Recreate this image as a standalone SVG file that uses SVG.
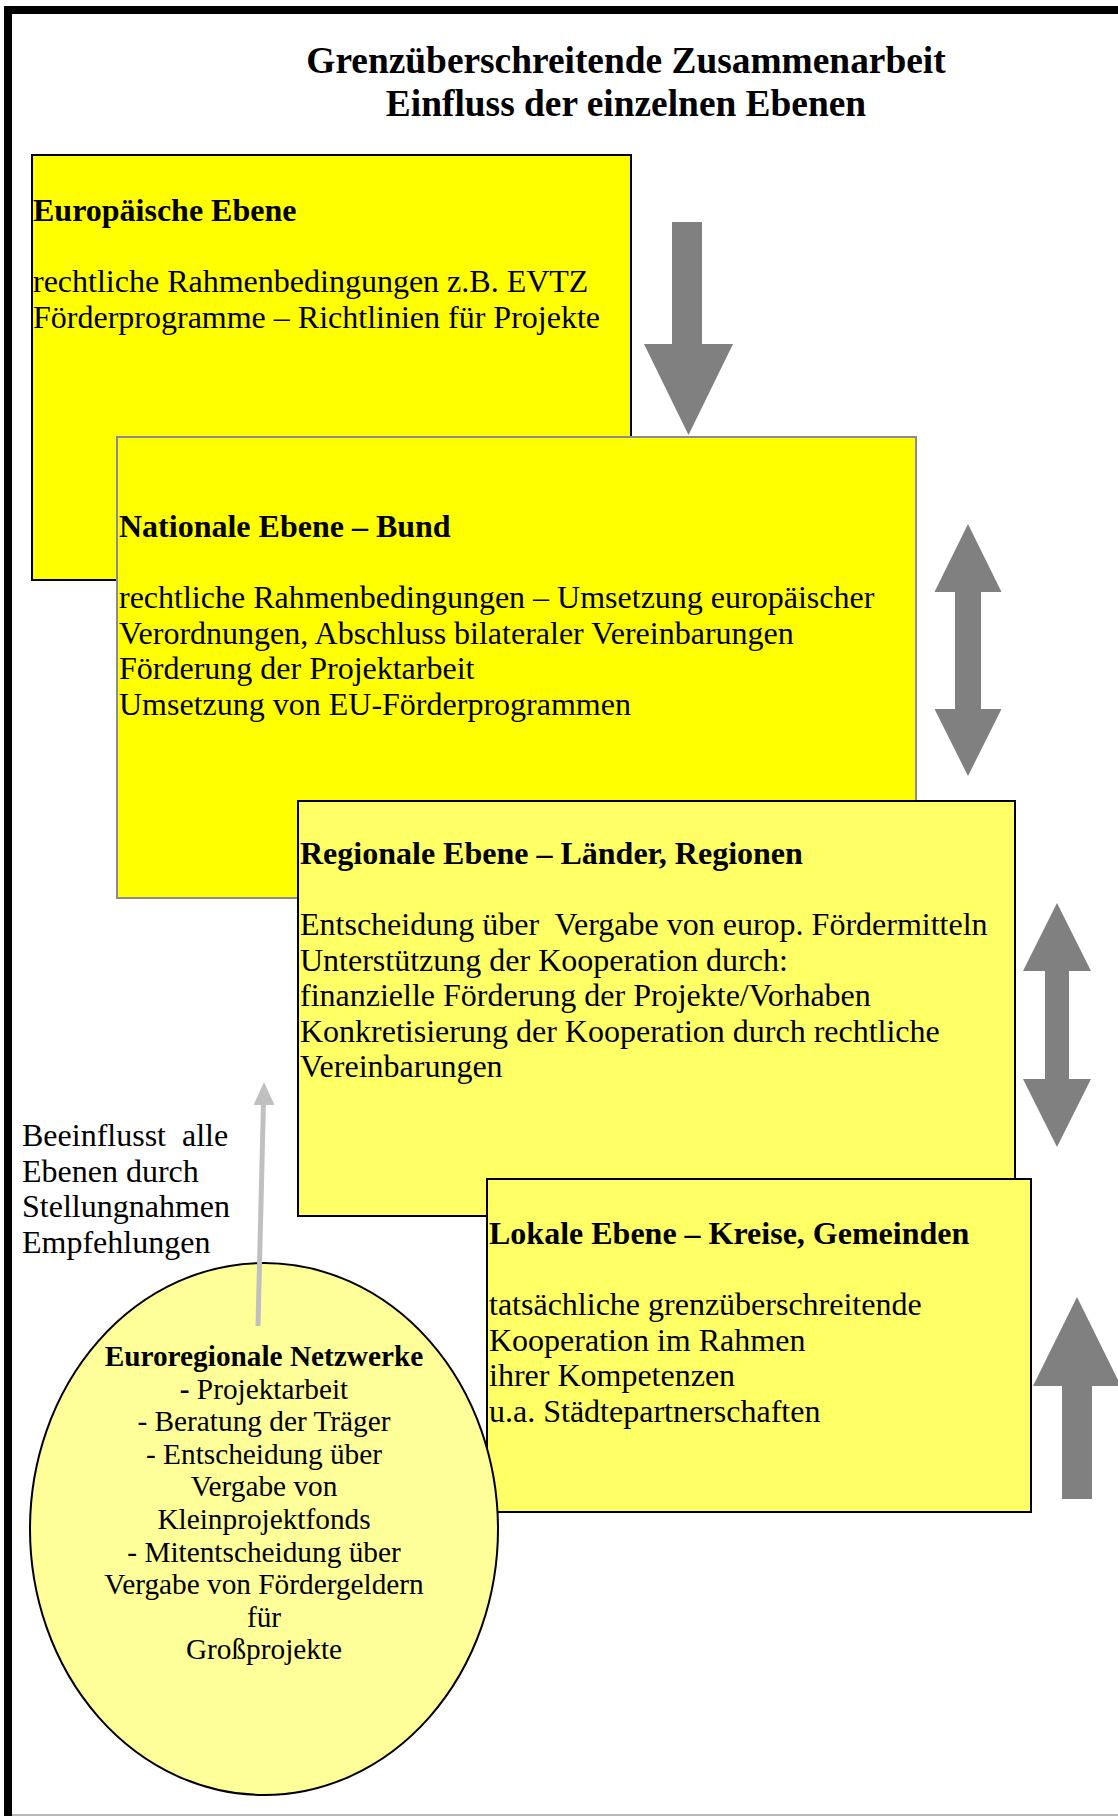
<svg xmlns="http://www.w3.org/2000/svg" width="1118" height="1816" viewBox="0 0 1118 1816">
  <style>
    text { font-family: "Liberation Serif", "Times New Roman", serif; fill: #000; white-space: pre; }
    .title { font-size: 37.4px; font-weight: bold; text-anchor: middle; }
    .head { font-size: 32px; font-weight: bold; }
    .body { font-size: 32px; }
    .ell { font-size: 29.3px; text-anchor: middle; }
    .ellb { font-size: 29.3px; font-weight: bold; text-anchor: middle; }
    .bigarrow { fill: #808080; }
  </style>

  <!-- page background and frame -->
  <rect x="0" y="0" width="1118" height="1816" fill="#ffffff"/>
  <rect x="4" y="6" width="1114" height="8" fill="#000000"/>
  <rect x="4" y="6" width="8" height="1810" fill="#000000"/>
  <line x1="12" y1="1815" x2="1118" y2="1815" stroke="#a0a0a0" stroke-width="1.5"/>

  <!-- heading -->
  <g id="title">
    <text class="title" x="626" y="73">Grenzüberschreitende Zusammenarbeit</text>
    <text class="title" x="626" y="116">Einfluss der einzelnen Ebenen</text>
  </g>

  <!-- European level -->
  <g id="europa">
    <rect x="32" y="155" width="599" height="425" fill="#ffff00" stroke="#000" stroke-width="2"/>
    <text class="head" x="33" y="221">Europäische Ebene</text>
    <text class="body" x="33" y="292">rechtliche Rahmenbedingungen z.B. EVTZ</text>
    <text class="body" x="33" y="327.5">Förderprogramme – Richtlinien für Projekte</text>
  </g>

  <!-- national level -->
  <g id="national">
    <rect x="117" y="437" width="799" height="461" fill="#ffff00" stroke="#8c8c8c" stroke-width="2"/>
    <text class="head" x="119" y="537">Nationale Ebene – Bund</text>
    <text class="body" x="119" y="608">rechtliche Rahmenbedingungen – Umsetzung europäischer</text>
    <text class="body" x="119" y="643.5">Verordnungen, Abschluss bilateraler Vereinbarungen</text>
    <text class="body" x="119" y="679">Förderung der Projektarbeit</text>
    <text class="body" x="119" y="714.5">Umsetzung von EU-Förderprogrammen</text>
  </g>

  <!-- regional level -->
  <g id="regional">
    <rect x="298" y="801" width="717" height="415" fill="#ffff66" stroke="#000" stroke-width="2"/>
    <text class="head" x="300" y="864">Regionale Ebene – Länder, Regionen</text>
    <text class="body" x="300" y="935">Entscheidung über  Vergabe von europ. Fördermitteln</text>
    <text class="body" x="300" y="970.5">Unterstützung der Kooperation durch:</text>
    <text class="body" x="300" y="1006">finanzielle Förderung der Projekte/Vorhaben</text>
    <text class="body" x="300" y="1041.5">Konkretisierung der Kooperation durch rechtliche</text>
    <text class="body" x="300" y="1077">Vereinbarungen</text>
  </g>

  <!-- local level -->
  <g id="lokal">
    <rect x="487" y="1179" width="544" height="333" fill="#ffff66" stroke="#000" stroke-width="2"/>
    <text class="head" x="489" y="1244">Lokale Ebene – Kreise, Gemeinden</text>
    <text class="body" x="489" y="1315">tatsächliche grenzüberschreitende</text>
    <text class="body" x="489" y="1350.5">Kooperation im Rahmen</text>
    <text class="body" x="489" y="1386">ihrer Kompetenzen</text>
    <text class="body" x="489" y="1421.5">u.a. Städtepartnerschaften</text>
  </g>

  <!-- side note -->
  <g id="hinweis">
    <text class="body" x="22" y="1146">Beeinflusst  alle</text>
    <text class="body" x="22" y="1181.5">Ebenen durch</text>
    <text class="body" x="22" y="1217">Stellungnahmen</text>
    <text class="body" x="22" y="1252.5">Empfehlungen</text>
  </g>

  <!-- euroregional networks -->
  <g id="netzwerke">
    <ellipse cx="264" cy="1529" rx="234" ry="266" fill="#ffff99" stroke="#000" stroke-width="2"/>
    <text class="ellb" x="264" y="1366">Euroregionale Netzwerke</text>
    <text class="ell" x="264" y="1398.6"><tspan font-weight="bold">-</tspan> Projektarbeit</text>
    <text class="ell" x="264" y="1431.2">- Beratung der Träger</text>
    <text class="ell" x="264" y="1463.8">- Entscheidung über</text>
    <text class="ell" x="264" y="1496.4">Vergabe von</text>
    <text class="ell" x="264" y="1529">Kleinprojektfonds</text>
    <text class="ell" x="264" y="1561.6">- Mitentscheidung über</text>
    <text class="ell" x="264" y="1594.2">Vergabe von Fördergeldern</text>
    <text class="ell" x="264" y="1626.8">für</text>
    <text class="ell" x="264" y="1659.4">Großprojekte</text>
  </g>

  <!-- connectors: block arrows between the levels and the influence arrow -->
  <g id="connectors">
    <polygon class="bigarrow" points="672,222 702,222 702,344 733,344 688.5,435 644,344 672,344"/>
    <polygon class="bigarrow" points="968,524 1001.5,592 981,592 981,709 1001.5,709 968,776 934.5,709 955,709 955,592 934.5,592"/>
    <polygon class="bigarrow" points="1057,903 1091,971 1069,971 1069,1079 1091,1079 1057,1147 1023,1079 1045,1079 1045,971 1023,971"/>
    <polygon class="bigarrow" points="1077,1297 1121,1386 1092,1386 1092,1499 1062,1499 1062,1386 1033,1386"/>
    <line x1="258" y1="1326" x2="263.5" y2="1102" stroke="#c0c0c0" stroke-width="5"/>
    <polygon points="264,1082 274.5,1105 253.5,1105" fill="#c0c0c0"/>
  </g>
</svg>
